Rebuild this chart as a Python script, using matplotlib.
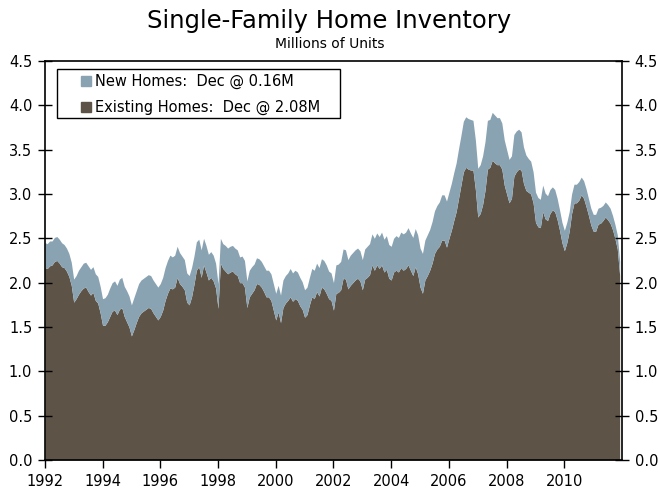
import numpy as np
import matplotlib
matplotlib.use('Agg')
import matplotlib.pyplot as plt
from matplotlib.patches import Patch, Rectangle

# ── data: monthly inventory, millions of units, Jan 1992 - Dec 2011 ──
years = list(range(1992, 2012))

existing_by_year = {
    1992: [2.17, 2.16, 2.19, 2.20, 2.24, 2.25, 2.22, 2.18, 2.17, 2.13, 2.07, 1.97],
    1993: [1.78, 1.82, 1.87, 1.91, 1.94, 1.95, 1.90, 1.86, 1.89, 1.80, 1.77, 1.66],
    1994: [1.52, 1.52, 1.56, 1.62, 1.68, 1.69, 1.64, 1.70, 1.72, 1.62, 1.56, 1.50],
    1995: [1.40, 1.47, 1.55, 1.62, 1.66, 1.68, 1.70, 1.72, 1.71, 1.66, 1.62, 1.58],
    1996: [1.62, 1.69, 1.80, 1.88, 1.94, 1.93, 1.95, 2.06, 1.99, 1.96, 1.92, 1.78],
    1997: [1.75, 1.84, 1.98, 2.14, 2.18, 2.06, 2.20, 2.12, 2.03, 2.06, 2.02, 1.94],
    1998: [1.71, 2.22, 2.16, 2.13, 2.10, 2.12, 2.13, 2.10, 2.08, 2.00, 2.00, 1.95],
    1999: [1.72, 1.84, 1.88, 1.92, 1.99, 1.98, 1.95, 1.90, 1.84, 1.84, 1.80, 1.69],
    2000: [1.58, 1.67, 1.55, 1.72, 1.77, 1.80, 1.84, 1.79, 1.82, 1.80, 1.74, 1.70],
    2001: [1.61, 1.64, 1.75, 1.84, 1.82, 1.90, 1.85, 1.95, 1.93, 1.88, 1.82, 1.80],
    2002: [1.69, 1.88, 1.89, 1.92, 2.05, 2.04, 1.93, 1.97, 2.00, 2.03, 2.05, 2.02],
    2003: [1.92, 2.04, 2.06, 2.09, 2.20, 2.14, 2.20, 2.16, 2.20, 2.12, 2.15, 2.05],
    2004: [2.03, 2.12, 2.14, 2.12, 2.17, 2.14, 2.16, 2.20, 2.14, 2.08, 2.18, 2.10],
    2005: [1.95, 1.88, 2.03, 2.08, 2.14, 2.22, 2.33, 2.38, 2.41, 2.48, 2.48, 2.40],
    2006: [2.50, 2.59, 2.70, 2.80, 2.95, 3.10, 3.25, 3.30, 3.28, 3.27, 3.27, 3.05],
    2007: [2.74, 2.78, 2.88, 3.04, 3.28, 3.30, 3.38, 3.35, 3.33, 3.33, 3.28, 3.10],
    2008: [3.00, 2.90, 2.95, 3.20, 3.25, 3.28, 3.27, 3.12, 3.04, 3.02, 3.00, 2.90],
    2009: [2.68, 2.63, 2.62, 2.80, 2.72, 2.70, 2.78, 2.82, 2.80, 2.71, 2.59, 2.45],
    2010: [2.36, 2.45, 2.58, 2.78, 2.90, 2.90, 2.93, 2.99, 2.95, 2.86, 2.76, 2.65],
    2011: [2.58, 2.58, 2.66, 2.67, 2.70, 2.74, 2.71, 2.67, 2.60, 2.50, 2.38, 2.08],
}

new_by_year = {
    1992: [0.28, 0.28, 0.28, 0.27, 0.27, 0.27, 0.27, 0.27, 0.26, 0.26, 0.26, 0.26],
    1993: [0.26, 0.26, 0.27, 0.27, 0.28, 0.28, 0.29, 0.29, 0.29, 0.30, 0.30, 0.30],
    1994: [0.30, 0.31, 0.31, 0.32, 0.32, 0.33, 0.33, 0.34, 0.34, 0.34, 0.35, 0.35],
    1995: [0.35, 0.36, 0.36, 0.37, 0.37, 0.37, 0.37, 0.37, 0.37, 0.37, 0.37, 0.37],
    1996: [0.37, 0.37, 0.37, 0.37, 0.37, 0.36, 0.36, 0.35, 0.35, 0.34, 0.34, 0.33],
    1997: [0.33, 0.33, 0.32, 0.32, 0.31, 0.31, 0.30, 0.30, 0.29, 0.29, 0.29, 0.28],
    1998: [0.28, 0.28, 0.28, 0.29, 0.29, 0.29, 0.29, 0.29, 0.29, 0.29, 0.30, 0.30],
    1999: [0.30, 0.30, 0.30, 0.29, 0.29, 0.29, 0.29, 0.29, 0.30, 0.30, 0.30, 0.30],
    2000: [0.30, 0.30, 0.31, 0.31, 0.31, 0.31, 0.32, 0.32, 0.32, 0.32, 0.32, 0.31],
    2001: [0.31, 0.31, 0.31, 0.32, 0.32, 0.32, 0.32, 0.32, 0.32, 0.32, 0.31, 0.31],
    2002: [0.31, 0.32, 0.32, 0.32, 0.33, 0.33, 0.33, 0.34, 0.34, 0.34, 0.34, 0.34],
    2003: [0.34, 0.34, 0.35, 0.35, 0.35, 0.36, 0.36, 0.36, 0.37, 0.37, 0.38, 0.38],
    2004: [0.38, 0.38, 0.39, 0.39, 0.40, 0.41, 0.41, 0.42, 0.42, 0.43, 0.43, 0.44],
    2005: [0.44, 0.45, 0.45, 0.46, 0.46, 0.47, 0.48, 0.49, 0.50, 0.51, 0.51, 0.52],
    2006: [0.52, 0.53, 0.54, 0.55, 0.56, 0.56, 0.57, 0.57, 0.57, 0.57, 0.56, 0.56],
    2007: [0.55, 0.55, 0.55, 0.55, 0.55, 0.54, 0.54, 0.54, 0.53, 0.53, 0.52, 0.51],
    2008: [0.50, 0.49, 0.48, 0.47, 0.46, 0.45, 0.43, 0.41, 0.40, 0.38, 0.37, 0.35],
    2009: [0.34, 0.33, 0.32, 0.30, 0.29, 0.28, 0.27, 0.26, 0.25, 0.24, 0.23, 0.23],
    2010: [0.23, 0.23, 0.22, 0.22, 0.21, 0.21, 0.21, 0.20, 0.20, 0.20, 0.19, 0.19],
    2011: [0.19, 0.19, 0.18, 0.18, 0.17, 0.17, 0.17, 0.17, 0.16, 0.16, 0.16, 0.16],
}

x_ticks = list(range(1992, 2012, 2))
y_ticks = [0.0, 0.5, 1.0, 1.5, 2.0, 2.5, 3.0, 3.5, 4.0, 4.5]

NEW_COLOR = '#8aa3b2'
EXISTING_COLOR = '#5e5347'

# ── assemble monthly series ─────────────────
dates = np.array([y + m / 12 for y in years for m in range(12)])
existing = np.array([v for y in years for v in existing_by_year[y]])
new = np.array([v for y in years for v in new_by_year[y]])
total = existing + new

# ── plot ────────────────────────────────────
plt.rcParams['font.family'] = 'DejaVu Sans'
fig = plt.figure(figsize=(6.59, 4.91), dpi=100)
ax = fig.add_axes([0.068, 0.063, 0.876, 0.813])

ax.fill_between(dates, 0, existing, color=EXISTING_COLOR, linewidth=0)
ax.fill_between(dates, existing, total, color=NEW_COLOR, linewidth=0)

ax.set_xlim(1992, 2012)
ax.set_ylim(0, 4.5)
ax.set_xticks(x_ticks)
ax.set_xticklabels([str(t) for t in x_ticks], fontsize=10.5)
ax.set_yticks(y_ticks)
ax.set_yticklabels([f'{t:.1f}' for t in y_ticks], fontsize=10.5)
ax.tick_params(axis='y', direction='inout', length=10, width=1,
               right=True, labelright=True, pad=4)
ax.tick_params(axis='x', direction='out', length=6, width=1, pad=4)
for s in ax.spines.values():
    s.set_linewidth(1.2)

# legend: entries without frame, box drawn separately (wider side padding)
handles = [Patch(color=NEW_COLOR, label='New Homes:  Dec @ 0.16M'),
           Patch(color=EXISTING_COLOR, label='Existing Homes:  Dec @ 2.08M')]
ax.legend(handles=handles, loc='upper left', bbox_to_anchor=(0.062, 0.967),
          fontsize=10.5, frameon=False,
          handlelength=0.7, handleheight=0.7, handletextpad=0.3,
          borderpad=0, labelspacing=0.75, borderaxespad=0)
ax.add_patch(Rectangle((0.021, 0.857), 0.49, 0.123, transform=ax.transAxes,
                       facecolor='white', edgecolor='black', linewidth=1.0,
                       zorder=4))
ax.get_legend().set_zorder(5)

fig.text(0.5, 0.957, 'Single-Family Home Inventory', ha='center', va='center',
         fontsize=17.5)
fig.text(0.5, 0.91, 'Millions of Units', ha='center', va='center', fontsize=10)

fig.savefig('out.png', dpi=100)
